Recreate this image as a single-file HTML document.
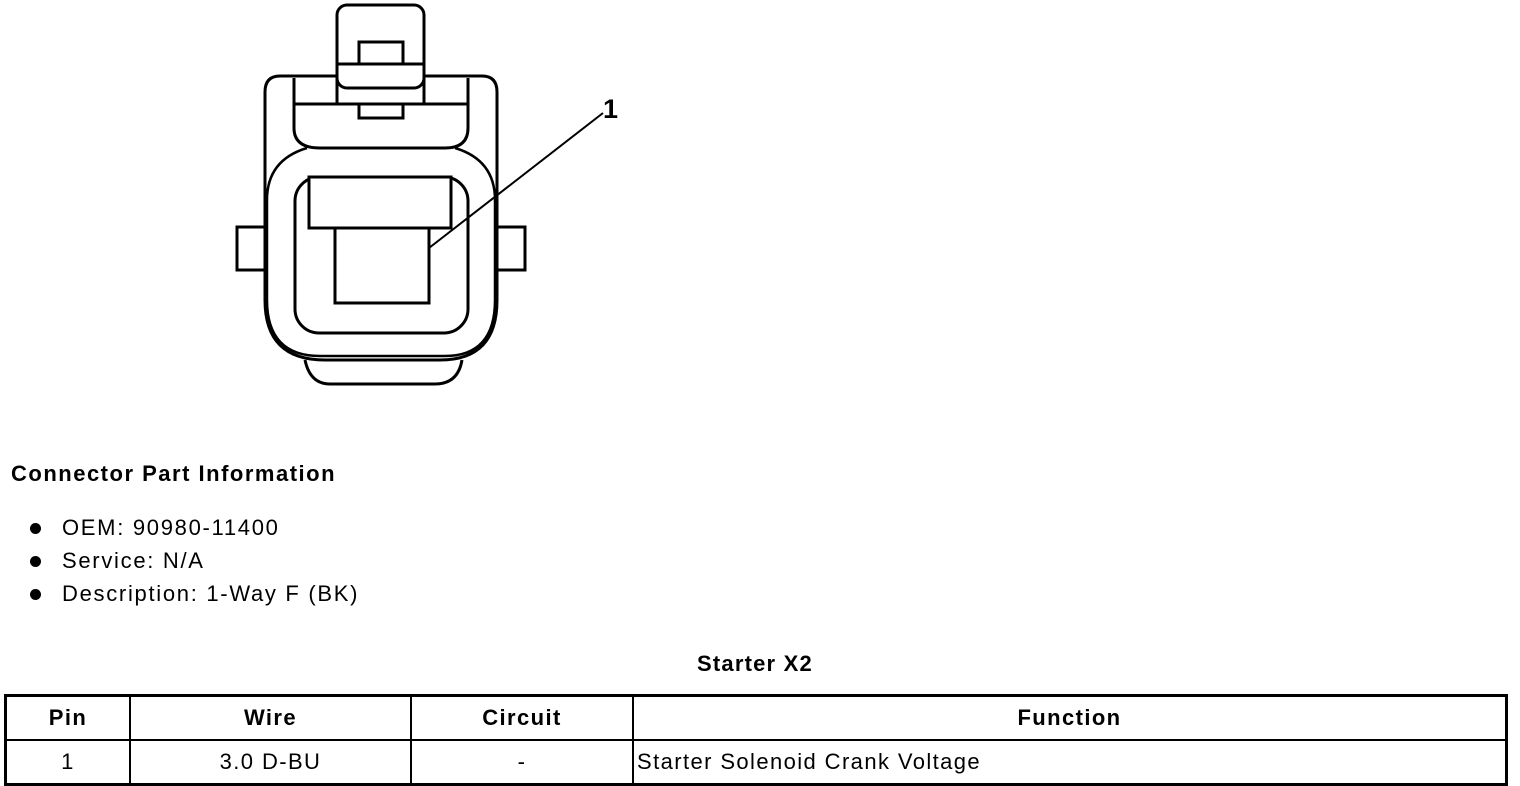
<!DOCTYPE html>
<html><head><style>
body{margin:0;width:1520px;height:786px;background:#fff;position:relative;font-family:"Liberation Sans",Arial,sans-serif;color:#000;overflow:hidden}
.t{position:absolute;white-space:nowrap;font-size:22px;letter-spacing:1.7px}
table{position:absolute;left:4px;top:694px;width:1504px;height:86px;border-collapse:collapse;border:3px solid #000;font-size:22px;letter-spacing:1.4px}
td,th{border:2px solid #000;padding:0;height:42px}
th{font-weight:bold;text-align:center}
.dot{position:absolute;width:11px;height:11px;border-radius:50%;background:#000}
</style></head><body>
<svg width="1520" height="400" style="position:absolute;left:0;top:0" fill="none" stroke="#000" stroke-width="3">
<rect x="237" y="227" width="28" height="43"/>
<rect x="497" y="227" width="28" height="43"/>
<path d="M305 360 Q310 384 330 384 L435 384 Q458 384 462 360"/>
<path d="M280 76 L482 76 Q497 76 497 92 L497 300 Q497 360 440 360 L325 360 Q265 360 265 300 L265 92 Q265 76 280 76 Z" fill="#fff"/>
<path d="M294 78 L294 128 Q294 148 320 148 L445 148 Q468 148 468 128 L468 78"/>
<line x1="294" y1="104" x2="468" y2="104"/>
<line x1="337" y1="76" x2="337" y2="104"/>
<line x1="424" y1="76" x2="424" y2="104"/>
<path d="M307 148 Q267 160 267 200 L267 300 Q267 356 320 356 L445 356 Q495 356 495 300 L495 200 Q495 160 455 148" stroke-width="2.5"/>
<rect x="295" y="177" width="173" height="156" rx="24"/>
<rect x="309" y="177" width="142" height="51" fill="#fff"/>
<rect x="335" y="228" width="94" height="75" fill="#fff"/>
<rect x="359" y="104" width="44" height="14"/>
<rect x="337" y="5" width="87" height="83" rx="10" fill="#fff"/>
<line x1="337" y1="64" x2="424" y2="64"/>
<rect x="359" y="42" width="44" height="22"/>
<line x1="429" y1="248" x2="603" y2="113" stroke-width="2"/>
<text x="603" y="118" font-family="Liberation Sans,Arial,sans-serif" font-size="27" font-weight="bold" fill="#000" stroke="none">1</text>
</svg>
<div class="t" style="left:11px;top:461px;font-weight:bold;letter-spacing:1.5px">Connector Part Information</div>
<div class="dot" style="left:30px;top:523px"></div>
<div class="t" style="left:62px;top:515px">OEM: 90980-11400</div>
<div class="dot" style="left:30px;top:556px"></div>
<div class="t" style="left:62px;top:548px">Service: N/A</div>
<div class="dot" style="left:30px;top:589px"></div>
<div class="t" style="left:62px;top:581px">Description: 1-Way F (BK)</div>
<div class="t" style="left:697px;top:651px;font-weight:bold;letter-spacing:1.2px">Starter X2</div>
<table>
<tr><th style="width:122px">Pin</th><th style="width:279px">Wire</th><th style="width:220px">Circuit</th><th>Function</th></tr>
<tr><td style="text-align:center">1</td><td style="text-align:center">3.0 D-BU</td><td style="text-align:center">-</td><td style="padding-left:3px">Starter Solenoid Crank Voltage</td></tr>
</table>
</body></html>
